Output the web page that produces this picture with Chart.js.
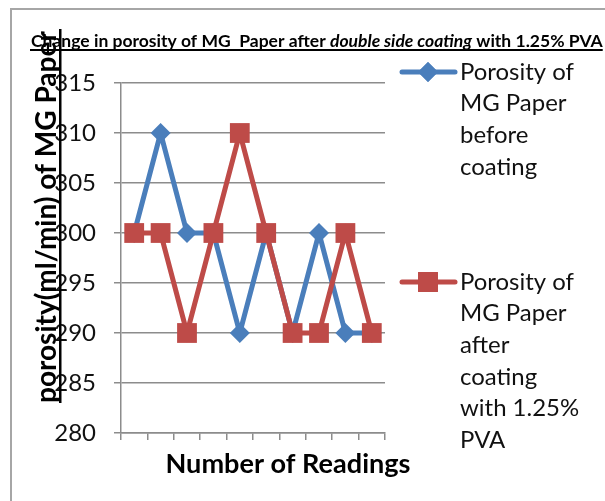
<!DOCTYPE html>
<html>
<head>
<meta charset="utf-8">
<script src="https://cdn.jsdelivr.net/npm/chart.js@4/dist/chart.umd.min.js"></script>
<style>
  body { margin: 0; background: #fff; }
  canvas { display: block; }
</style>
</head>
<body>
<canvas id="porosity-chart" width="605" height="501"></canvas>
<script>
const readings = ["1", "2", "3", "4", "5", "6", "7", "8", "9", "10"];
const beforeCoating = [300, 310, 300, 300, 290, 300, 290, 300, 290, 290];
const afterCoating = [300, 300, 290, 300, 310, 300, 290, 290, 300, 290];
const yTicks = [280, 285, 290, 295, 300, 305, 310, 315];

const FONT = "Lato, 'Liberation Sans', sans-serif";
const BLUE = "#4a7ebb";
const RED = "#be4b48";

// fit a string into a given pixel width by adjusting the font size
function fitFont(ctx, text, style, width) {
    ctx.font = `${style} 20px ${FONT}`;
    const size = 20 * width / ctx.measureText(text).width;
    return `${style} ${size.toFixed(2)}px ${FONT}`;
}

const decorations = {
    id: "decorations",
    afterDraw(chart) {
        const ctx = chart.ctx;
        ctx.save();

        // outer frame
        ctx.strokeStyle = "#a6a6a6";
        ctx.lineWidth = 2;
        ctx.beginPath();
        ctx.moveTo(11, 501);
        ctx.lineTo(11, 9);
        ctx.lineTo(605, 9);
        ctx.stroke();

        // title with italic middle part, underlined
        const parts = [
            ["bold", "Change in porosity of MG  Paper after "],
            ["italic bold", "double side coating"],
            ["bold", " with 1.25% PVA"],
        ];
        let total = 0;
        parts.forEach(([st, t]) => { ctx.font = `${st} 14px ${FONT}`; total += ctx.measureText(t).width; });
        const scale = 572 / total;
        let x = 31;
        ctx.fillStyle = "#000";
        ctx.textBaseline = "alphabetic";
        ctx.textAlign = "left";
        parts.forEach(([st, t]) => {
            ctx.font = `${st} ${(14 * scale).toFixed(2)}px ${FONT}`;
            ctx.fillText(t, x, 47);
            x += ctx.measureText(t).width;
        });
        ctx.fillRect(30, 49, x - 30, 2);

        // y axis title, rotated and underlined
        const yTitle = "porosity(ml/min) of MG Paper";
        ctx.translate(56, 403);
        ctx.rotate(-Math.PI / 2);
        ctx.font = fitFont(ctx, yTitle, "bold", 372);
        ctx.fillText(yTitle, 0, 0);
        ctx.fillRect(0, 3, 374, 2.5);
        ctx.setTransform(1, 0, 0, 1, 0, 0);

        // x axis title
        const xTitle = "Number of Readings";
        ctx.font = fitFont(ctx, xTitle, "bold", 245);
        ctx.textAlign = "center";
        ctx.fillText(xTitle, 288, 473);

        // legend
        const entries = [
            { color: BLUE, style: "rectRot", radius: 10, y: 72,
              lines: ["Porosity of", "MG Paper", "before", "coating"] },
            { color: RED, style: "rect", radius: 14, y: 282,
              lines: ["Porosity of", "MG Paper", "after", "coating", "with 1.25%", "PVA"] },
        ];
        ctx.textAlign = "left";
        ctx.font = fitFont(ctx, "Porosity of", "", 114);
        entries.forEach(e => {
            ctx.strokeStyle = e.color;
            ctx.lineWidth = 5;
            ctx.lineCap = "round";
            ctx.beginPath();
            ctx.moveTo(402, e.y);
            ctx.lineTo(455, e.y);
            ctx.stroke();
            ctx.fillStyle = e.color;
            Chart.helpers.drawPoint(ctx, { pointStyle: e.style, radius: e.radius, borderWidth: 0 }, 428, e.y);
            ctx.fill();
            ctx.fillStyle = "#111";
            ctx.textBaseline = "middle";
            e.lines.forEach((line, i) => ctx.fillText(line, 460, e.y + i * 31.6));
        });

        ctx.restore();
    },
};

new Chart(document.querySelector("#porosity-chart"), {
    type: "line",
    data: {
        labels: readings,
        datasets: [
            {
                label: "Porosity of MG Paper before coating",
                data: beforeCoating,
                borderColor: BLUE,
                backgroundColor: BLUE,
                borderWidth: 5,
                pointStyle: "rectRot",
                pointRadius: 10,
                pointBorderWidth: 0,
                order: 1,
            },
            {
                label: "Porosity of MG Paper after coating with 1.25% PVA",
                data: afterCoating,
                borderColor: RED,
                backgroundColor: RED,
                borderWidth: 5,
                pointStyle: "rect",
                pointRadius: 14,
                pointBorderWidth: 0,
                order: 0,
            },
        ],
    },
    options: {
        responsive: false,
        animation: false,
        layout: { padding: { left: 10, top: 83, right: 220, bottom: 0 } },
        plugins: {
            legend: { display: false },
            title: { display: false },
            tooltip: { enabled: false },
        },
        scales: {
            x: {
                offset: true,
                afterFit: s => { s.height = 68; },
                grid: { offset: true, drawOnChartArea: false, tickLength: 7, color: "#8c8c8c", lineWidth: 1.5 },
                border: { color: "#8c8c8c", width: 1.5 },
                ticks: { display: false },
            },
            y: {
                min: 280,
                max: 315,
                afterFit: s => { s.width = 111; },
                afterBuildTicks: s => { s.ticks = yTicks.map(v => ({ value: v })); },
                grid: { color: "#8c8c8c", lineWidth: 1.5, tickLength: 7 },
                border: { color: "#8c8c8c", width: 1.5 },
                ticks: {
                    color: "#111",
                    padding: 18,
                    font: { family: FONT, size: 24 },
                },
            },
        },
    },
    plugins: [decorations],
});
</script>
</body>
</html>
